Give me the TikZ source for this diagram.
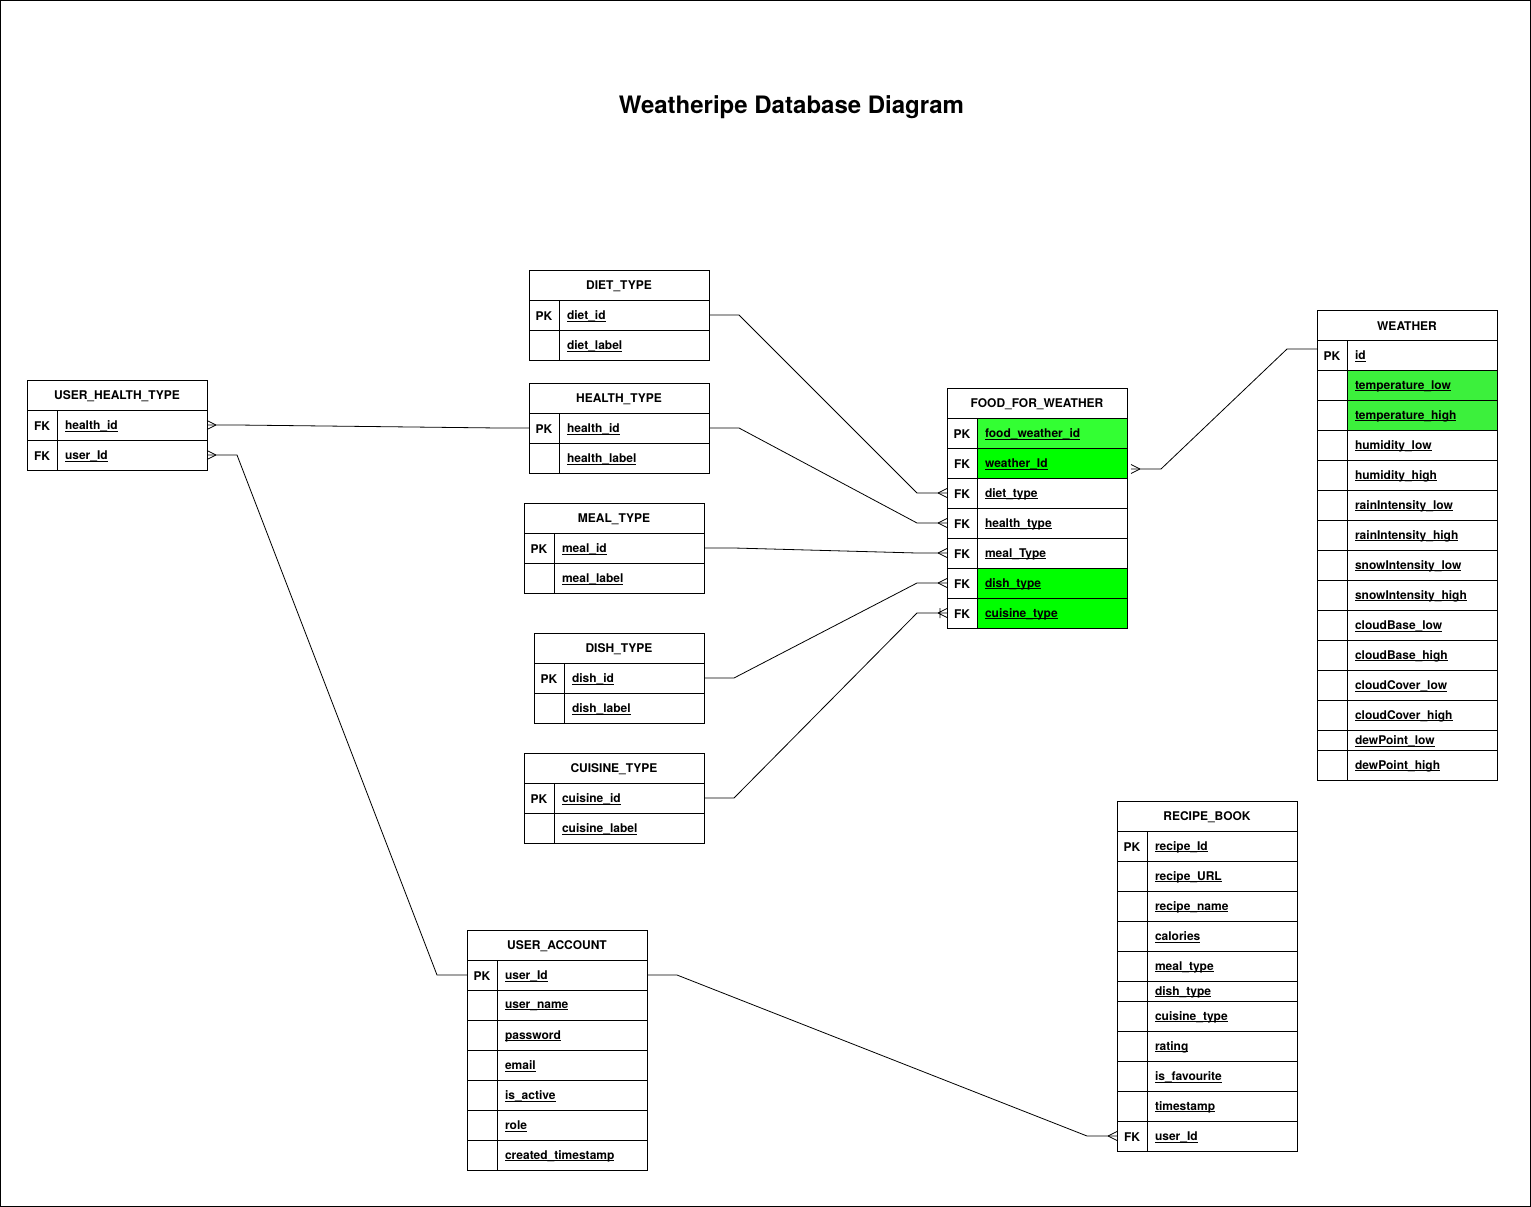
\documentclass[tikz,border=0pt]{standalone}
\usepackage{fontspec}
\setmainfont{TeX Gyre Heros}
\usetikzlibrary{calc}
\definecolor{gA}{HTML}{33FF33}
\definecolor{gB}{HTML}{00FF00}
\definecolor{gT}{HTML}{3CF03C}
\newcommand\myul[1]{\setbox0=\hbox{#1}\rlap{\rule[-2.2pt]{\wd0}{0.9pt}}\box0}
\newcommand\lowr[1]{\raisebox{-1pt}[\height][\depth]{#1}}
\tikzset{
  base/.style={draw, line width=0.8pt, inner sep=0pt, outer sep=0pt, anchor=north west,
    font=\fontsize{12}{14}\selectfont\bfseries},
  hdr/.style={base, minimum height=30pt},
  keyc/.style={base, minimum width=30pt, fill=white},
  fld/.style={base, align=left, inner xsep=8pt},
  conn/.style={line width=0.8pt},
  crowL/.pic={\draw[conn] (-9,0) -- (0,-4.5) (-9,0) -- (0,4.5);},
  crowR/.pic={\draw[conn] (9,0) -- (0,-4.5) (9,0) -- (0,4.5);},
  onemanyL/.pic={\draw[conn] (-9,0) -- (0,-4.5) (-9,0) -- (0,4.5) (-7,-5) -- (-7,5);}
}
% header: name, x, y, width, text
\newcommand\erhead[5]{\node[hdr, minimum width=#4] (#1) at (#2,#3) {\lowr{#5}};}
% row: name, x, y, width, height, key, field, fill
\newcommand\erow[8]{%
  \pgfmathsetmacro\fw{#4-46}%
  \node[fld, minimum height=#5, text width=\fw pt, fill=#8] (#1) at (#2+30,#3) {\lowr{\myul{#7}}};
  \node[keyc, minimum height=#5] (#1k) at (#2,#3) {\lowr{#6}};}
\begin{document}
\begin{tikzpicture}[x=1pt, y=-1pt]
\useasboundingbox (0,0) rectangle (1531,1207);
\draw[line width=0.8pt] (0.5,0.5) rectangle (1530.5,1206.5);
\node[font=\fontsize{24}{29}\selectfont\bfseries] (title) at (791.5,107.5) {Weatheripe Database Diagram};

% USER_HEALTH_TYPE
\erhead{uht}{27}{380}{180}{USER\_HEALTH\_TYPE}
\erow{uht-hid}{27}{410}{180}{30}{FK}{health\_id}{white}
\erow{uht-uid}{27}{440}{180}{30}{FK}{user\_Id}{white}

% DIET_TYPE
\erhead{dt}{529}{270}{180}{DIET\_TYPE}
\erow{dt-id}{529}{300}{180}{30}{PK}{diet\_id}{white}
\erow{dt-lbl}{529}{330}{180}{30}{}{diet\_label}{white}

% HEALTH_TYPE
\erhead{ht}{529}{383}{180}{HEALTH\_TYPE}
\erow{ht-id}{529}{413}{180}{30}{PK}{health\_id}{white}
\erow{ht-lbl}{529}{443}{180}{30}{}{health\_label}{white}

% MEAL_TYPE
\erhead{mt}{524}{503}{180}{MEAL\_TYPE}
\erow{mt-id}{524}{533}{180}{30}{PK}{meal\_id}{white}
\erow{mt-lbl}{524}{563}{180}{30}{}{meal\_label}{white}

% DISH_TYPE
\erhead{ds}{534}{633}{170}{DISH\_TYPE}
\erow{ds-id}{534}{663}{170}{30}{PK}{dish\_id}{white}
\erow{ds-lbl}{534}{693}{170}{30}{}{dish\_label}{white}

% CUISINE_TYPE
\erhead{ct}{524}{753}{180}{CUISINE\_TYPE}
\erow{ct-id}{524}{783}{180}{30}{PK}{cuisine\_id}{white}
\erow{ct-lbl}{524}{813}{180}{30}{}{cuisine\_label}{white}

% FOOD_FOR_WEATHER
\erhead{ffw}{947}{388}{180}{FOOD\_FOR\_WEATHER}
\erow{ffw-id}{947}{418}{180}{30}{PK}{food\_weather\_id}{gA}
\erow{ffw-wid}{947}{448}{180}{30}{FK}{weather\_Id}{gB}
\erow{ffw-diet}{947}{478}{180}{30}{FK}{diet\_type}{white}
\erow{ffw-health}{947}{508}{180}{30}{FK}{health\_type}{white}
\erow{ffw-meal}{947}{538}{180}{30}{FK}{meal\_Type}{white}
\erow{ffw-dish}{947}{568}{180}{30}{FK}{dish\_type}{gB}
\erow{ffw-cuis}{947}{598}{180}{30}{FK}{cuisine\_type}{gB}

% WEATHER
\erhead{w}{1317}{310}{180}{WEATHER}
\erow{w-id}{1317}{340}{180}{30}{PK}{id}{white}
\erow{w-tl}{1317}{370}{180}{30}{}{temperature\_low}{gT}
\erow{w-th}{1317}{400}{180}{30}{}{temperature\_high}{gT}
\erow{w-hl}{1317}{430}{180}{30}{}{humidity\_low}{white}
\erow{w-hh}{1317}{460}{180}{30}{}{humidity\_high}{white}
\erow{w-rl}{1317}{490}{180}{30}{}{rainIntensity\_low}{white}
\erow{w-rh}{1317}{520}{180}{30}{}{rainIntensity\_high}{white}
\erow{w-sl}{1317}{550}{180}{30}{}{snowIntensity\_low}{white}
\erow{w-sh}{1317}{580}{180}{30}{}{snowIntensity\_high}{white}
\erow{w-bl}{1317}{610}{180}{30}{}{cloudBase\_low}{white}
\erow{w-bh}{1317}{640}{180}{30}{}{cloudBase\_high}{white}
\erow{w-cl}{1317}{670}{180}{30}{}{cloudCover\_low}{white}
\erow{w-ch}{1317}{700}{180}{30}{}{cloudCover\_high}{white}
\erow{w-dl}{1317}{730}{180}{20}{}{dewPoint\_low}{white}
\erow{w-dh}{1317}{750}{180}{30}{}{dewPoint\_high}{white}

% RECIPE_BOOK
\erhead{rb}{1117}{801}{180}{RECIPE\_BOOK}
\erow{rb-id}{1117}{831}{180}{30}{PK}{recipe\_Id}{white}
\erow{rb-url}{1117}{861}{180}{30}{}{recipe\_URL}{white}
\erow{rb-name}{1117}{891}{180}{30}{}{recipe\_name}{white}
\erow{rb-cal}{1117}{921}{180}{30}{}{calories}{white}
\erow{rb-meal}{1117}{951}{180}{30}{}{meal\_type}{white}
\erow{rb-dish}{1117}{981}{180}{20}{}{dish\_type}{white}
\erow{rb-cuis}{1117}{1001}{180}{30}{}{cuisine\_type}{white}
\erow{rb-rat}{1117}{1031}{180}{30}{}{rating}{white}
\erow{rb-fav}{1117}{1061}{180}{30}{}{is\_favourite}{white}
\erow{rb-ts}{1117}{1091}{180}{30}{}{timestamp}{white}
\erow{rb-uid}{1117}{1121}{180}{30}{FK}{user\_Id}{white}

% USER_ACCOUNT
\erhead{ua}{467}{930}{180}{USER\_ACCOUNT}
\erow{ua-id}{467}{960}{180}{30}{PK}{user\_Id}{white}
\erow{ua-name}{467}{990}{180}{30}{}{user\_name}{white}
\erow{ua-pw}{467}{1020}{180}{30}{}{password}{white}
\erow{ua-mail}{467}{1050}{180}{30}{}{email}{white}
\erow{ua-act}{467}{1080}{180}{30}{}{is\_active}{white}
\erow{ua-role}{467}{1110}{180}{30}{}{role}{white}
\erow{ua-ts}{467}{1140}{180}{30}{}{created\_timestamp}{white}

% connectors
\draw[conn] (uht-hid.east) -- ++(30,0) -- ($(ht-idk.west)+(-30,0)$) -- (ht-idk.west);
\pic at (uht-hid.east) {crowR};
\draw[conn] (uht-uid.east) -- ++(30,0) -- ($(ua-idk.west)+(-30,0)$) -- (ua-idk.west);
\pic at (uht-uid.east) {crowR};

\draw[conn] (dt-id.east) -- ++(30,0) -- ($(ffw-dietk.west)+(-30,0)$) -- (ffw-dietk.west);
\pic at (ffw-dietk.west) {crowL};
\draw[conn] (ht-id.east) -- ++(30,0) -- ($(ffw-healthk.west)+(-30,0)$) -- (ffw-healthk.west);
\pic at (ffw-healthk.west) {crowL};
\draw[conn] (mt-id.east) -- ++(30,0) -- ($(ffw-mealk.west)+(-30,0)$) -- (ffw-mealk.west);
\pic at (ffw-mealk.west) {crowL};
\draw[conn] (ds-id.east) -- ++(30,0) -- ($(ffw-dishk.west)+(-30,0)$) -- (ffw-dishk.west);
\pic at (ffw-dishk.west) {crowL};
\draw[conn] (ct-id.east) -- ++(30,0) -- ($(ffw-cuisk.west)+(-30,0)$) -- (ffw-cuisk.west);
\pic at (ffw-cuisk.west) {onemanyL};

\coordinate (wstart) at ($(ffw-wid.east)+(4,6)$);
\coordinate (wend) at ($(w-idk.west)+(0,-6)$);
\draw[conn] (wstart) -- ++(30,0) -- ($(wend)+(-30,0)$) -- (wend);
\pic at (wstart) {crowR};

\draw[conn] (ua-id.east) -- ++(30,0) -- ($(rb-uidk.west)+(-30,0)$) -- (rb-uidk.west);
\pic at (rb-uidk.west) {crowL};
\end{tikzpicture}
\end{document}
